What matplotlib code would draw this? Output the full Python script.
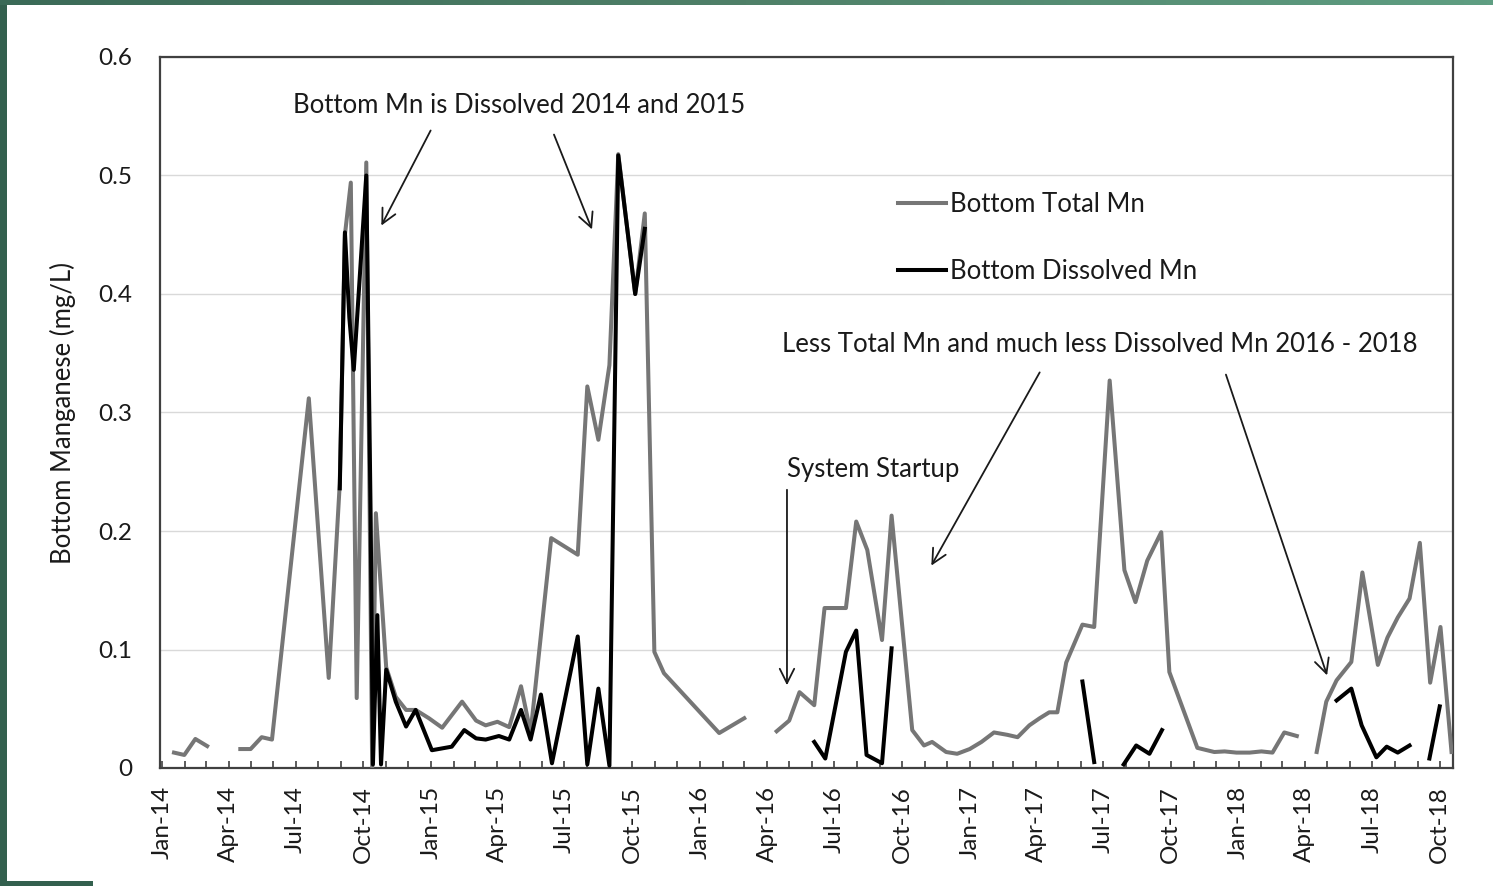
import numpy as np
import pandas as pd
import matplotlib
matplotlib.use("Agg")
import matplotlib.pyplot as plt
import matplotlib.dates as mdates
from matplotlib.ticker import FuncFormatter, MultipleLocator
from matplotlib.colors import LinearSegmentedColormap

plt.rcParams['font.family'] = ['Lato', 'DejaVu Sans']

# bottom total Mn (mg/L), NaN = no sampling (line break)
total_dates = [
    '2014-01-17', '2014-01-31', '2014-02-15', '2014-03-03', '2014-03-25',
    '2014-04-17', '2014-05-01', '2014-05-16', '2014-05-30', '2014-07-19',
    '2014-08-15', '2014-08-30', '2014-09-06', '2014-09-14', '2014-09-22',
    '2014-10-05', '2014-10-13', '2014-10-18', '2014-11-01', '2014-11-14',
    '2014-11-28', '2014-12-11', '2014-12-29',
    '2015-01-16', '2015-02-12', '2015-03-03', '2015-03-16', '2015-04-01',
    '2015-04-17', '2015-05-03', '2015-05-16', '2015-06-13', '2015-07-19',
    '2015-08-01', '2015-08-16', '2015-08-31', '2015-09-12', '2015-10-05',
    '2015-10-18', '2015-10-31', '2015-11-13',
    '2016-01-27', '2016-03-01', '2016-03-20', '2016-04-14', '2016-05-01',
    '2016-05-15', '2016-06-04', '2016-06-18', '2016-07-17', '2016-07-31',
    '2016-08-15', '2016-09-04', '2016-09-17', '2016-10-15', '2016-10-31',
    '2016-11-11', '2016-11-30', '2016-12-15',
    '2017-01-01', '2017-01-17', '2017-02-03', '2017-02-21', '2017-03-07',
    '2017-03-23', '2017-04-06', '2017-04-19', '2017-04-30', '2017-05-12',
    '2017-06-03', '2017-06-19', '2017-07-10', '2017-07-30', '2017-08-14',
    '2017-08-30', '2017-09-18', '2017-09-29', '2017-11-06', '2017-11-29',
    '2017-12-13', '2017-12-29',
    '2018-01-16', '2018-02-01', '2018-02-16', '2018-03-04', '2018-03-21',
    '2018-04-05', '2018-04-17', '2018-04-30', '2018-05-14', '2018-06-03',
    '2018-06-18', '2018-07-09', '2018-07-22', '2018-08-05', '2018-08-21',
    '2018-09-04', '2018-09-18', '2018-10-02', '2018-10-17',
]
total_mn = [
    0.013, 0.011, 0.0245, 0.0185, np.nan,
    0.016, 0.016, 0.026, 0.024, 0.312,
    0.076, 0.24, 0.45, 0.494, 0.059,
    0.511, 0.0, 0.215, 0.085, 0.060,
    0.049, 0.049, 0.042,
    0.034, 0.056, 0.040, 0.036, 0.039,
    0.0345, 0.069, 0.030, 0.194, 0.180,
    0.322, 0.277, 0.340, 0.518, 0.400,
    0.468, 0.098, 0.080,
    0.0295, 0.042, np.nan, 0.031, 0.040,
    0.064, 0.053, 0.135, 0.135, 0.208,
    0.184, 0.108, 0.213, 0.032, 0.019,
    0.022, 0.0135, 0.012,
    0.016, 0.022, 0.030, 0.028, 0.026,
    0.036, 0.042, 0.047, 0.047, 0.089,
    0.121, 0.119, 0.327, 0.167, 0.140,
    0.175, 0.199, 0.081, 0.017, 0.0135,
    0.014, 0.013,
    0.013, 0.014, 0.013, 0.030, 0.027,
    np.nan, 0.0135, 0.056, 0.074, 0.0895,
    0.165, 0.087, 0.110, 0.127, 0.143,
    0.190, 0.072, 0.119, 0.0135,
]

# bottom dissolved Mn (mg/L)
dissolved_dates = [
    '2014-08-30', '2014-09-06', '2014-09-12', '2014-09-18', '2014-10-05',
    '2014-10-11', '2014-10-14', '2014-10-20', '2014-10-25', '2014-11-01',
    '2014-11-14', '2014-11-28', '2014-12-11',
    '2015-01-02', '2015-01-29', '2015-02-15', '2015-03-03', '2015-03-16',
    '2015-04-03', '2015-04-17', '2015-05-03', '2015-05-16', '2015-05-30',
    '2015-06-14', '2015-07-19', '2015-08-01', '2015-08-16', '2015-08-31',
    '2015-09-12', '2015-10-05', '2015-10-18',
    '2016-01-01', '2016-06-04', '2016-06-19', '2016-07-17', '2016-07-31',
    '2016-08-14', '2016-09-04', '2016-09-17',
    '2017-01-01', '2017-06-03', '2017-06-19', '2017-07-01', '2017-07-29',
    '2017-08-15', '2017-09-02', '2017-09-19',
    '2018-01-01', '2018-05-14', '2018-06-03', '2018-06-17', '2018-07-07',
    '2018-07-21', '2018-08-05', '2018-08-21', '2018-09-01', '2018-09-17',
    '2018-10-01',
]
dissolved_mn = [
    0.236, 0.452, 0.380, 0.336, 0.500,
    0.207, 0.003, 0.129, 0.003, 0.083,
    0.056, 0.035, 0.049,
    0.015, 0.018, 0.032, 0.025, 0.024,
    0.027, 0.024, 0.049, 0.024, 0.062,
    0.004, 0.111, 0.003, 0.067, 0.002,
    0.517, 0.400, 0.455,
    np.nan, 0.022, 0.008, 0.098, 0.116,
    0.011, 0.004, 0.101,
    np.nan, 0.073, 0.005, np.nan, 0.003,
    0.019, 0.012, 0.032,
    np.nan, 0.057, 0.067, 0.036, 0.009,
    0.018, 0.013, 0.019, np.nan, 0.008,
    0.052,
]

total_dates = pd.to_datetime(total_dates)
dissolved_dates = pd.to_datetime(dissolved_dates)

text_col = '#1a1a1a'
fs = 18.5

fig = plt.figure(figsize=(14.93, 8.86), dpi=100)
fig.patch.set_facecolor('white')

# green frame strips
top = fig.add_axes([0, 1 - 5 / 886, 1, 5 / 886])
grad = np.linspace(0, 1, 256).reshape(1, -1)
top.imshow(grad, aspect='auto',
           cmap=LinearSegmentedColormap.from_list('g', ['#3b6a57', '#4f8068', '#5f9e82']))
top.axis('off')
left = fig.add_axes([0, 0, 7 / 1493, 1 - 5 / 886])
left.set_facecolor('#33604e')
left.set_xticks([]); left.set_yticks([])
for s in left.spines.values():
    s.set_visible(False)
bot = fig.add_axes([0, 0, 93 / 1493, 5 / 886])
bot.set_facecolor('#33604e')
bot.set_xticks([]); bot.set_yticks([])
for s in bot.spines.values():
    s.set_visible(False)

ax = fig.add_axes([160 / 1493, 118 / 886, 1293 / 1493, 711 / 886])

ax.plot(total_dates, total_mn, color='#767676', lw=2.9, label='Bottom Total Mn', zorder=3)
ax.plot(dissolved_dates, dissolved_mn, color='black', lw=2.9, label='Bottom Dissolved Mn', zorder=4)

ax.set_xlim(pd.Timestamp('2013-12-29'), pd.Timestamp('2018-10-19'))
ax.set_ylim(0, 0.6)

ax.yaxis.set_major_locator(MultipleLocator(0.1))
ax.yaxis.set_major_formatter(FuncFormatter(lambda v, p: '0' if abs(v) < 1e-9 else '%.1f' % v))
ax.grid(axis='y', color='#d9d9d9', lw=1.0, zorder=0)
ax.tick_params(axis='y', length=0, pad=20, labelsize=17.5, labelcolor=text_col)

ax.xaxis.set_major_locator(mdates.MonthLocator(bymonth=[1, 4, 7, 10]))
ax.xaxis.set_minor_locator(mdates.MonthLocator())
ax.xaxis.set_major_formatter(mdates.DateFormatter('%b-%y'))
ax.tick_params(axis='x', which='both', direction='in', length=5, width=1.2, color='#404040')
ax.tick_params(axis='x', which='major', pad=13, labelsize=17.5, labelcolor=text_col, labelrotation=90)

for s in ax.spines.values():
    s.set_color('#404040')
    s.set_linewidth(1.6)

ax.set_ylabel('Bottom Manganese (mg/L)', fontsize=18.5, color=text_col, labelpad=16)

leg = ax.legend(loc='upper left', bbox_to_anchor=(0.553, 0.842), frameon=False,
                fontsize=fs, handlelength=1.85, handletextpad=0.15, labelspacing=1.6)
for t in leg.get_texts():
    t.set_color(text_col)

arrow = dict(arrowstyle='->', color='#1a1a1a', lw=1.3, mutation_scale=26)
ax.text(0.2777, 0.9311, 'Bottom Mn is Dissolved 2014 and 2015', transform=ax.transAxes,
        ha='center', va='center', fontsize=fs, color=text_col)
ax.annotate('', xy=(0.1702, 0.7595), xytext=(0.2103, 0.9001),
            xycoords='axes fraction', textcoords='axes fraction', arrowprops=arrow)
ax.annotate('', xy=(0.3349, 0.7539), xytext=(0.3039, 0.8945),
            xycoords='axes fraction', textcoords='axes fraction', arrowprops=arrow)

ax.text(0.7266, 0.5963, 'Less Total Mn and much less Dissolved Mn 2016 - 2018',
        transform=ax.transAxes, ha='center', va='center', fontsize=fs, color=text_col)
ax.annotate('', xy=(0.5955, 0.2813), xytext=(0.6814, 0.5598),
            xycoords='axes fraction', textcoords='axes fraction', arrowprops=arrow)
ax.annotate('', xy=(0.9033, 0.1266), xytext=(0.8237, 0.5570),
            xycoords='axes fraction', textcoords='axes fraction', arrowprops=arrow)

ax.text(0.4849, 0.4205, 'System Startup', transform=ax.transAxes,
        ha='left', va='center', fontsize=fs, color=text_col)
ax.annotate('', xy=(0.4849, 0.1125), xytext=(0.4849, 0.3952),
            xycoords='axes fraction', textcoords='axes fraction', arrowprops=arrow)

fig.savefig('out.png', dpi=100)
